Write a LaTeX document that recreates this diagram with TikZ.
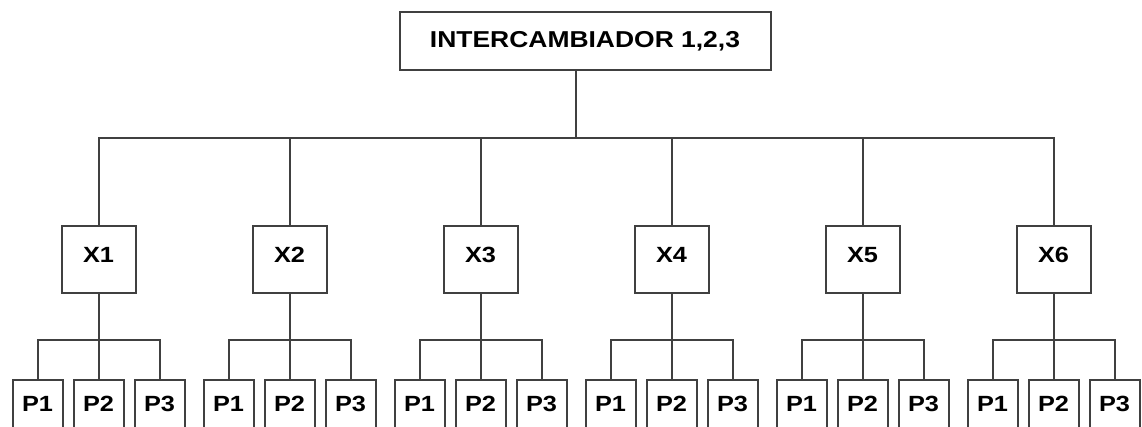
\documentclass[tikz,border=0pt]{standalone}
\usepackage{fontspec}
\setmainfont{Liberation Sans}[FakeStretch=1.15]
\tikzset{
  topbox/.style={draw,inner sep=0pt,minimum width=371pt,minimum height=58pt,
    font=\bfseries\fontsize{23}{27}\selectfont},
  xbox/.style={draw,inner sep=0pt,minimum width=74pt,minimum height=67pt,text depth=10pt,
    font=\bfseries\fontsize{22}{26}\selectfont},
  pbox/.style={draw,inner sep=0pt,minimum width=50pt,minimum height=56pt,text depth=8pt,
    font=\bfseries\fontsize{22}{26}\selectfont}
}
\begin{document}
\begin{tikzpicture}[x=1pt,y=1pt,line width=2pt,draw=black!75,
  level 1/.style={level distance=189.5pt,sibling distance=191pt,
    edge from parent path={(\tikzparentnode) -- ++(0,-68) -| (\tikzchildnode.north)}},
  level 2/.style={level distance=148pt,sibling distance=61pt,
    edge from parent path={(\tikzparentnode.south) -- ++(0,-46) -| (\tikzchildnode.north)}}]
\useasboundingbox (0,0) rectangle (1142,-426);
\node[topbox] (inter) at (585,-41) {INTERCAMBIADOR 1,2,3};
% the tree hangs from a point just under the top box
\node[coordinate] (hub) at (576,-70) {}
child foreach \i in {1,...,6} {node[xbox] (x\i) {X\i}
    child foreach \j in {1,2,3} {node[pbox] (x\i-p\j) {P\j}}
    };
\draw (inter.south -| hub) -- (hub);
\end{tikzpicture}
\end{document}
